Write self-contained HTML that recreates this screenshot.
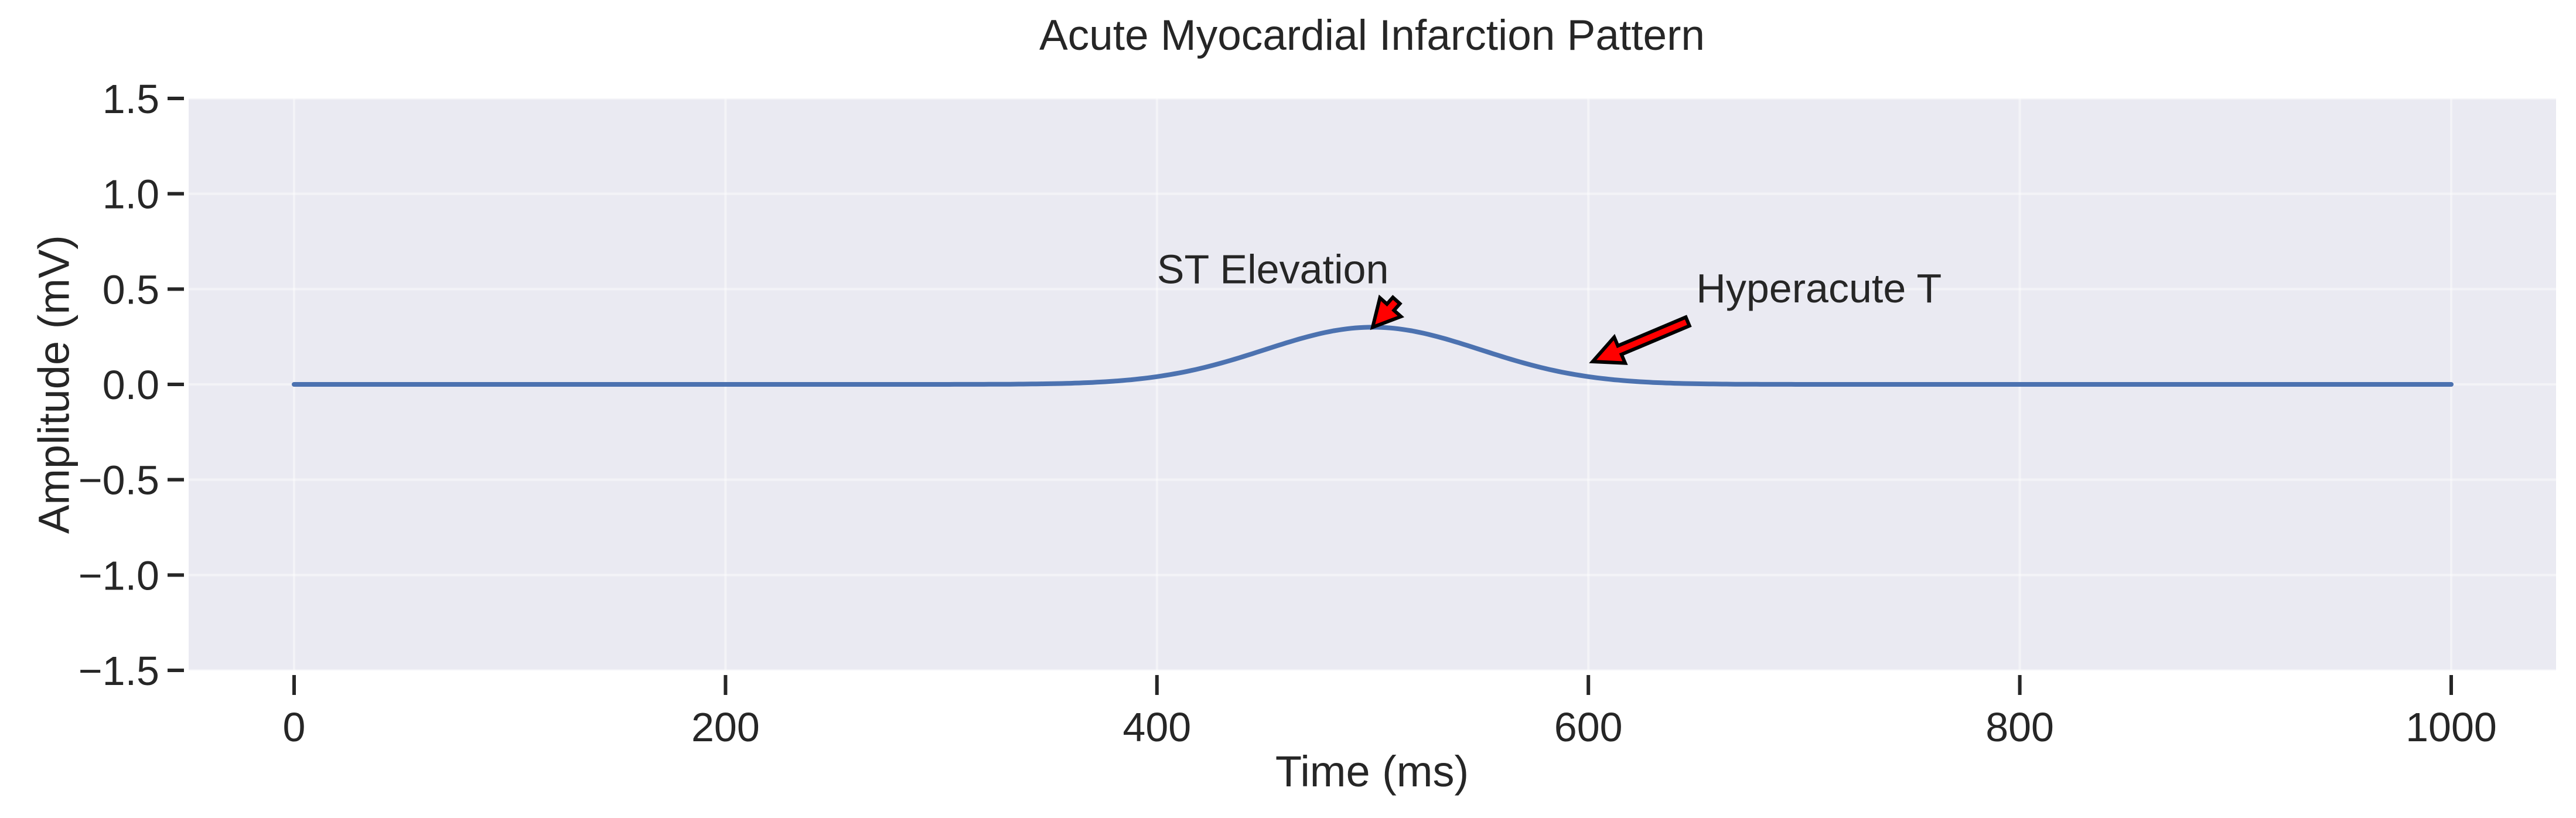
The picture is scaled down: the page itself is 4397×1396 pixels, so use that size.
<!DOCTYPE html>
<html><head><meta charset="utf-8"><style>
html,body{margin:0;padding:0;background:#fff}
svg{display:block;font-family:"Liberation Sans",sans-serif}
</style></head><body>
<svg id="chart" width="4397" height="1396" viewBox="0 0 4397 1396">
<rect x="0" y="0" width="4397" height="1396" fill="#fff"/>
<rect x="322" y="168" width="4041" height="976" fill="#eaeaf2"/>
<g id="grid"></g>
<g id="ticks"></g>
<g id="series"></g>
<g id="annots"></g>
<text x="2342" y="85" text-anchor="middle" font-size="73" fill="#262626">Acute Myocardial Infarction Pattern</text>
<text x="2342" y="1342" text-anchor="middle" font-size="74" fill="#262626">Time (ms)</text>
<text transform="translate(98,656) rotate(-90)" text-anchor="middle" dominant-baseline="middle" font-size="74" fill="#262626">Amplitude (mV)</text>
</svg>
<script>
const xTicks = [0, 200, 400, 600, 800, 1000];
const yTicks = [-1.5, -1.0, -0.5, 0.0, 0.5, 1.0, 1.5];
const yTickLabels = ["\u22121.5", "\u22121.0", "\u22120.5", "0.0", "0.5", "1.0", "1.5"];
const peakTime = [500];
const peakAmp = [0.3];
const peakWidth = [50];
const annotLabels = ["ST Elevation", "Hyperacute T"];
const annotTextX = [400, 650];
const annotTextY = [0.5, 0.4];
const arrowTailX = [511, 646];
const arrowTailY = [0.44, 0.33];
const arrowHeadX = [500, 602];
const arrowHeadY = [0.30, 0.12];

const NS = "http://www.w3.org/2000/svg";
const X0 = 502, X1 = 4184, YT = 168, YB = 1144;
function sx(v){ return X0 + (v - 0) / 1000 * (X1 - X0); }
function sy(v){ return YB - (v + 1.5) / 3 * (YB - YT); }
function mk(tag, attrs, parent){
  const el = document.createElementNS(NS, tag);
  for (const k in attrs) el.setAttribute(k, attrs[k]);
  parent.appendChild(el);
  return el;
}
const grid = document.getElementById('grid');
const ticks = document.getElementById('ticks');
xTicks.forEach(function(t){
  const g = mk('line', {x1: sx(t), x2: sx(t), y1: YT, y2: YB, stroke: '#fff', 'stroke-width': 4, opacity: 0.45}, grid);
  
  
  const tk = mk('line', {x1: sx(t), x2: sx(t), y1: 1152, y2: 1186, stroke: '#262626', 'stroke-width': 6}, ticks);
  
  
  const lb = mk('text', {x: sx(t), y: 1265, 'text-anchor': 'middle', 'font-size': 70, fill: '#262626'}, ticks);
  lb.textContent = String(t);
  
  
});
yTicks.forEach(function(t, i){
  const g = mk('line', {x1: 322, x2: 4363, y1: sy(t), y2: sy(t), stroke: '#fff', 'stroke-width': 4, opacity: 0.45}, grid);
  
  
  const tk = mk('line', {x1: 286, x2: 314, y1: sy(t), y2: sy(t), stroke: '#262626', 'stroke-width': 6}, ticks);
  
  
  const lb = mk('text', {x: 272, y: sy(t) + 25, 'text-anchor': 'end', 'font-size': 70, fill: '#262626'}, ticks);
  lb.textContent = yTickLabels[i];
  
  
});
let d = '';
for (let t = 0; t <= 1000; t += 2) {
  let v = 0;
  for (let k = 0; k < peakTime.length; k++) v += peakAmp[k] * Math.exp(-Math.pow(t - peakTime[k], 2) / (2 * peakWidth[k] * peakWidth[k]));
  d += (t === 0 ? 'M' : 'L') + sx(t).toFixed(1) + ',' + sy(v).toFixed(1);
}
const line = mk('path', {d: d, fill: 'none', stroke: '#4c72b0', 'stroke-width': 8, 'stroke-linecap': 'round'}, document.getElementById('series'));


const ann = document.getElementById('annots');
annotLabels.forEach(function(lab, i){
  const tx = mk('text', {x: sx(annotTextX[i]), y: sy(annotTextY[i]) - 10, 'font-size': 70, fill: '#262626'}, ann);
  tx.textContent = lab;
  
  
  const x1 = sx(arrowTailX[i]), y1 = sy(arrowTailY[i]), x2 = sx(arrowHeadX[i]), y2 = sy(arrowHeadY[i]);
  const dx = x2 - x1, dy = y2 - y1, L = Math.hypot(dx, dy), ux = dx / L, uy = dy / L, px = -uy, py = ux;
  const hl = Math.min(50, L * 0.75), hw = 24, sw = 8;
  const bx = x2 - ux * hl, by = y2 - uy * hl;
  const pts = [
    [x1 + px * sw, y1 + py * sw], [bx + px * sw, by + py * sw], [bx + px * hw, by + py * hw], [x2, y2],
    [bx - px * hw, by - py * hw], [bx - px * sw, by - py * sw], [x1 - px * sw, y1 - py * sw]
  ].map(function(p){ return p[0].toFixed(1) + ',' + p[1].toFixed(1); }).join(' ');
  const ar = mk('polygon', {points: pts, fill: '#ff0000', stroke: '#000', 'stroke-width': 6, 'stroke-linejoin': 'miter'}, ann);
  
  
});
</script>
</body></html>
